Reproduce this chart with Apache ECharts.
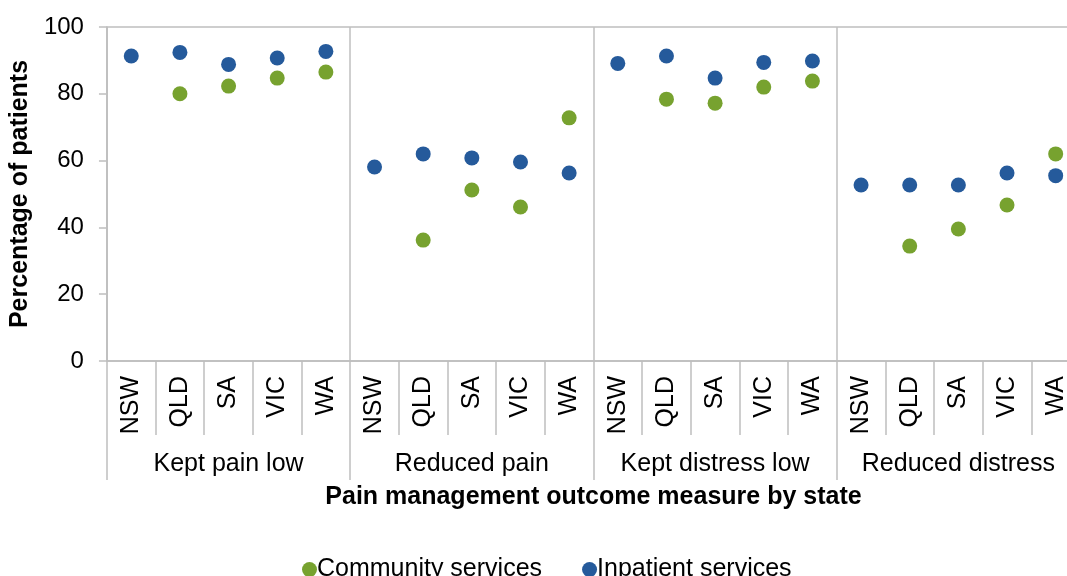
<!DOCTYPE html>
<html style="height: 100%">
<head>
    <meta charset="utf-8">
    <script src="https://cdn.jsdelivr.net/npm/echarts@6/dist/echarts.min.js"></script>
</head>
<body style="height: 100%; margin: 0; overflow: hidden">
<!-- plot area runs past the right edge in the original, so the canvas is wider than the window -->
<div id="container" style="width: 1100px; height: 576px"></div>

<script type="text/javascript">
    var groups = ['Kept pain low', 'Reduced pain', 'Kept distress low', 'Reduced distress'];
    var states = ['NSW', 'QLD', 'SA', 'VIC', 'WA'];
    // values per group, in state order
    var community = [null, 80.0, 82.3, 84.7, 86.5,
                     null, 36.2, 51.2, 46.1, 72.8,
                     null, 78.4, 77.2, 82.0, 83.8,
                     null, 34.4, 39.5, 46.7, 62.0];
    var inpatient = [91.3, 92.4, 88.8, 90.7, 92.7,
                     58.1, 62.0, 60.8, 59.6, 56.3,
                     89.1, 91.3, 84.7, 89.4, 89.8,
                     52.7, 52.7, 52.7, 56.3, 55.5];
    var yTicks = [0, 20, 40, 60, 80, 100];

    var axisX = [];
    for (var g = 0; g < groups.length; g++) {
        for (var s = 0; s < states.length; s++) {
            axisX.push(states[s]);
        }
    }

    var gray = '#bfbfbf';
    var font = 'Liberation Sans, Arial, sans-serif';

    var myChart = echarts.init(document.getElementById('container'));
    var option = {
        animation: false,
        textStyle: {fontFamily: font},
        grid: {
            left: 106, top: 27, width: 974, height: 334,
            show: true, borderColor: gray, borderWidth: 1.5
        },
        legend: {
            top: 552, left: 297,
            itemGap: 40, itemWidth: 15, itemHeight: 15,
            icon: 'circle',
            textStyle: {fontSize: 25, color: '#000', fontFamily: font, padding: [0, 0, 0, -5]},
            data: ['Community services', 'Inpatient services']
        },
        xAxis: [
            {
                type: 'category',
                data: axisX,
                axisLine: {show: true, lineStyle: {color: gray, width: 1.5}},
                axisTick: {show: true, inside: false, interval: 0, length: 74, lineStyle: {color: gray, width: 1.5}},
                axisLabel: {interval: 0, rotate: 90, margin: 15, fontSize: 25, color: '#000'},
                splitLine: {show: false}
            },
            {
                type: 'category',
                position: 'bottom',
                data: groups,
                axisLine: {show: false},
                axisTick: {show: true, inside: false, interval: 0, length: 119, lineStyle: {color: gray, width: 1.5}},
                axisLabel: {interval: 0, margin: 91, fontSize: 25, color: '#000'},
                splitLine: {show: true, interval: 0, lineStyle: {color: gray, width: 1.5}},
                name: 'Pain management outcome measure by state',
                nameLocation: 'middle',
                nameGap: 124,
                nameTextStyle: {fontSize: 25, fontWeight: 'bold', color: '#000'}
            }
        ],
        yAxis: {
            type: 'value',
            min: yTicks[0],
            max: yTicks[yTicks.length - 1],
            interval: 20,
            axisLine: {show: true, lineStyle: {color: gray, width: 1.5}},
            axisTick: {show: true, inside: false, length: 8, lineStyle: {color: gray, width: 1.5}},
            axisLabel: {margin: 23, fontSize: 24, color: '#000'},
            splitLine: {show: false},
            name: 'Percentage of patients',
            nameLocation: 'middle',
            nameGap: 66,
            nameTextStyle: {fontSize: 25, fontWeight: 'bold', color: '#000'}
        },
        series: [
            {
                name: 'Community services',
                type: 'scatter',
                xAxisIndex: 0,
                symbolSize: 15,
                itemStyle: {color: '#77a22f', opacity: 1},
                data: community
            },
            {
                name: 'Inpatient services',
                type: 'scatter',
                xAxisIndex: 0,
                symbolSize: 15,
                itemStyle: {color: '#255a9b', opacity: 1},
                data: inpatient
            }
        ]
    };
    myChart.setOption(option, true);
</script>
</body>
</html>
